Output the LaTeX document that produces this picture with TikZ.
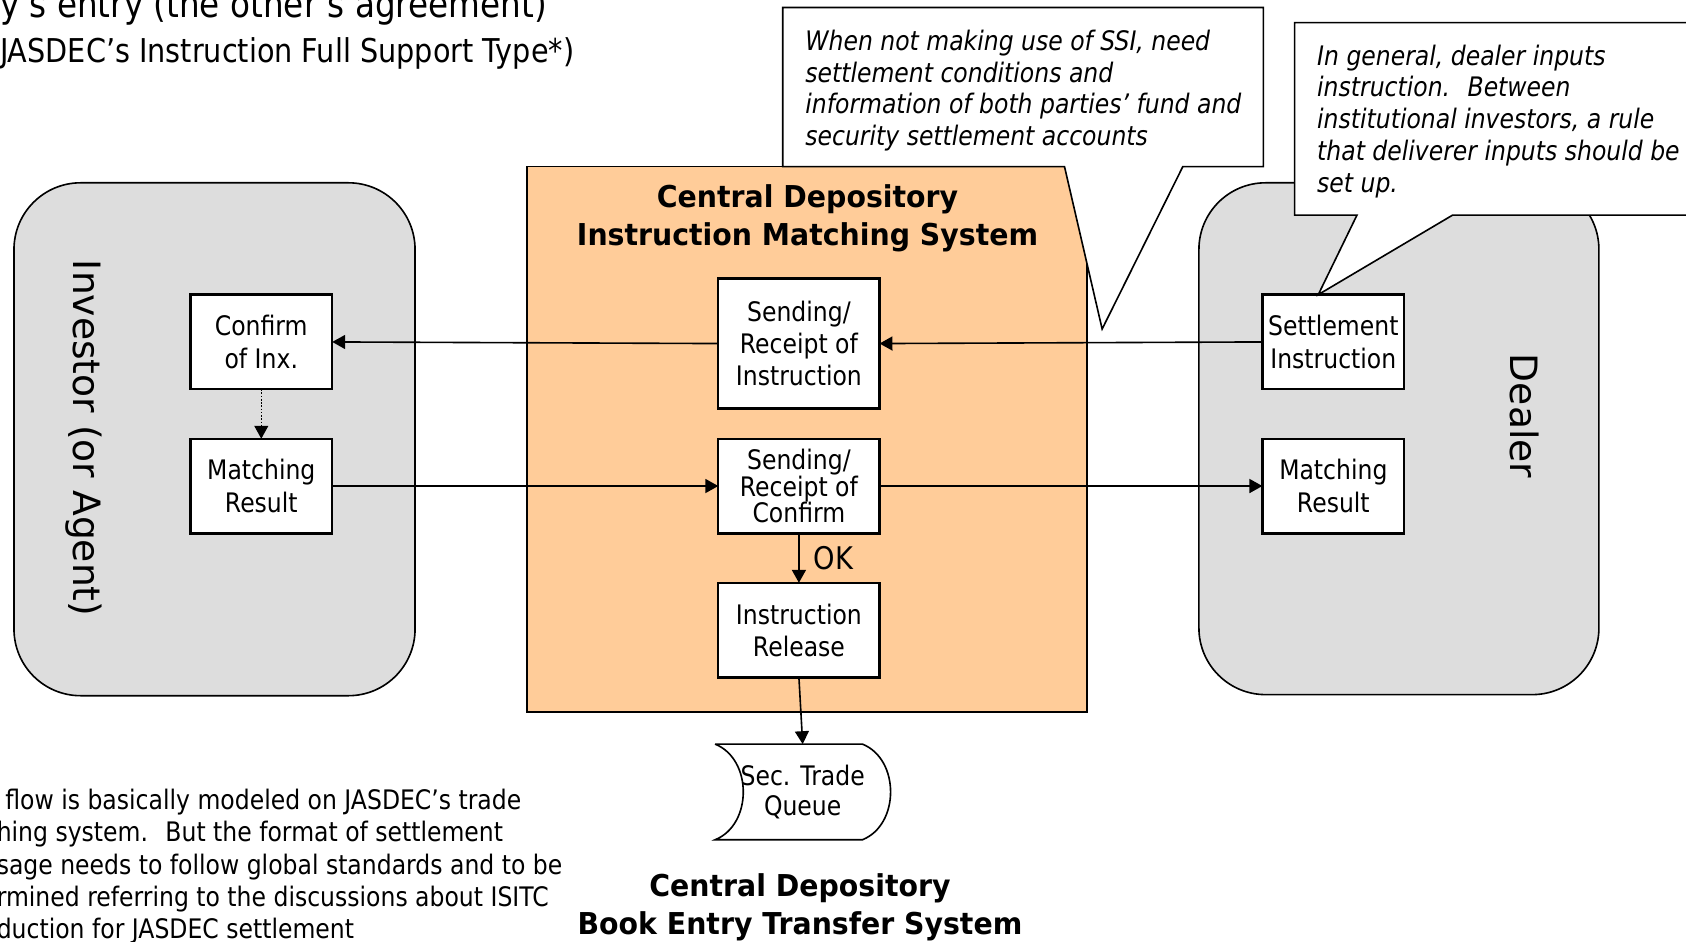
\documentclass[tikz,border=0pt]{standalone}
\usepackage{fontspec}
\setmainfont{DejaVu Sans}[FakeStretch=0.875]
\newfontfamily\sidefont{DejaVu Sans}
\newfontfamily\headfont{DejaVu Sans}[FakeStretch=0.942]
\usetikzlibrary{arrows.meta,calc}
\definecolor{peach}{HTML}{FFCC99}
\definecolor{panelgray}{HTML}{DDDDDD}

\begin{document}
\begin{tikzpicture}[x=1pt,y=-1pt,
  every node/.style={inner sep=0pt, outer sep=0pt},
  txt/.style={font=\fontsize{25}{30}\selectfont},
  procbox/.style={draw, fill=white, line width=2.2pt, align=center,
    font=\fontsize{25}{30}\selectfont},
  smallbox/.style={procbox, minimum width=132, minimum height=88},
  midbox/.style={procbox, minimum width=150, minimum height=88},
  panel/.style={draw, fill=panelgray, line width=1.5pt, rounded corners=62pt},
  conn/.style={line width=1.5pt, -{Triangle[length=12pt,width=13pt]}},
  calloutshape/.style={draw, fill=white, line width=1.5pt, line join=miter},
  sidelabel/.style={font=\sidefont\fontsize{35}{35}\selectfont, rotate=-90, anchor=base},
  heading/.style={font=\headfont\bfseries\fontsize{28}{35}\selectfont, align=center},
  note/.style={font=\itshape\fontsize{25}{29.6}\selectfont, align=left, anchor=base west},
]
\useasboundingbox (0,0) rectangle (1568,876);
\clip (0,0) rectangle (1568,876);

% page heading
\node[anchor=base west, font=\fontsize{34.7}{40}\selectfont] (head1) at (0,16)
  {y’s entry (the other’s agreement)};
\node[anchor=base west, font=\fontsize{30.5}{36}\selectfont] (head2) at (0,58)
  {JASDEC’s Instruction Full Support Type*)};

% participant panels and the matching system
\node[panel, minimum width=373, minimum height=477] (inv) at (199.5,408.5) {};
\node[panel, minimum width=372, minimum height=476] (dlr) at (1301,408) {};
\node[draw, fill=peach, line width=1.5pt, minimum width=521, minimum height=507]
  (cdims) at (750.5,408.5) {};

\node[sidelabel] (invlabel) at (68,407.5) {Investor (or Agent)};
\node[sidelabel] (dlrlabel) at (1405,387) {Dealer};

\node[heading] (cdimstitle) at (751,203) {Central Depository\\Instruction Matching System};

% process boxes
\node[smallbox] (conf) at (243,318) {Confirm\\of Inx.};
\node[smallbox] (resL) at (243,452) {Matching\\Result};
\node[procbox, minimum width=150, minimum height=121] (sndI) at (743,319.5)
  {Sending/\\Receipt of\\Instruction};
\node[midbox, font=\fontsize{25}{25}\selectfont] (sndC) at (743,452)
  {Sending/\\Receipt of\\Confirm};
\node[midbox] (rel) at (743,586) {Instruction\\Release};
\node[smallbox] (setI) at (1240,318) {Settlement\\Instruction};
\node[smallbox] (resR) at (1240,452) {Matching\\Result};

% callouts (the anchor is the baseline of the last line)
\path[calloutshape] (728,7) -- (1175,7) -- (1175,155) -- (1100,155) -- (1025,306)
  -- (990,155) -- (728,155) -- cycle;
\node[note] (ssinote) at (749,135.5)
  {When not making use of SSI, need\\settlement conditions and\\information of both parties’ fund and\\security settlement accounts};

\path[calloutshape] (1204,21) -- (1580,21) -- (1580,200) -- (1351,200)
  -- ([xshift=-14pt]setI.north) -- (1262,200) -- (1204,200) -- cycle;
\node[note] (dlrnote) at (1225,179)
  {In general, dealer inputs\\instruction.~ Between\\institutional investors, a rule\\that deliverer inputs should be\\set up.};

% book entry queue
\node[txt, align=center, minimum width=163, minimum height=89,
  font=\fontsize{25}{28}\selectfont] (queue) at (746.5,736.5) {Sec. Trade\\Queue};
\draw[line width=1.5pt] (queue.north west) -- ++(137,0)
  .. controls +(35,14) and +(35,-14) .. ++(0,89) -- ++(-137,0)
  .. controls +(35,-14) and +(35,14) .. (queue.north west);

\node[heading] (cdbets) at (744,844) {Central Depository\\Book Entry Transfer System};

% explanatory note (anchor on the last baseline)
\node[txt, align=left, anchor=base west] (para) at (-3,873)
  {\hspace*{8pt}flow is basically modeled on JASDEC’s trade\\hing system.~ But the format of settlement\\sage needs to follow global standards and to be\\rmined referring to the discussions about ISITC\\duction for JASDEC settlement};

% message flow
\draw[conn] (setI.west) -- (sndI.east);
\draw[conn] (sndI.west) -- (conf.east);
\draw[conn] (resL.east) -- (sndC.west);
\draw[conn] (sndC.east) -- (resR.west);
\draw[conn] (sndC.south) -- node[right, xshift=14pt, font=\fontsize{29}{29}\selectfont] (ok) {OK} (rel.north);
\draw[conn, line width=1pt, dash pattern=on 1.5pt off 1.5pt] (conf.south) -- (resL.north);
\draw[conn] (rel.south) -- (queue.north);
\end{tikzpicture}
\end{document}
